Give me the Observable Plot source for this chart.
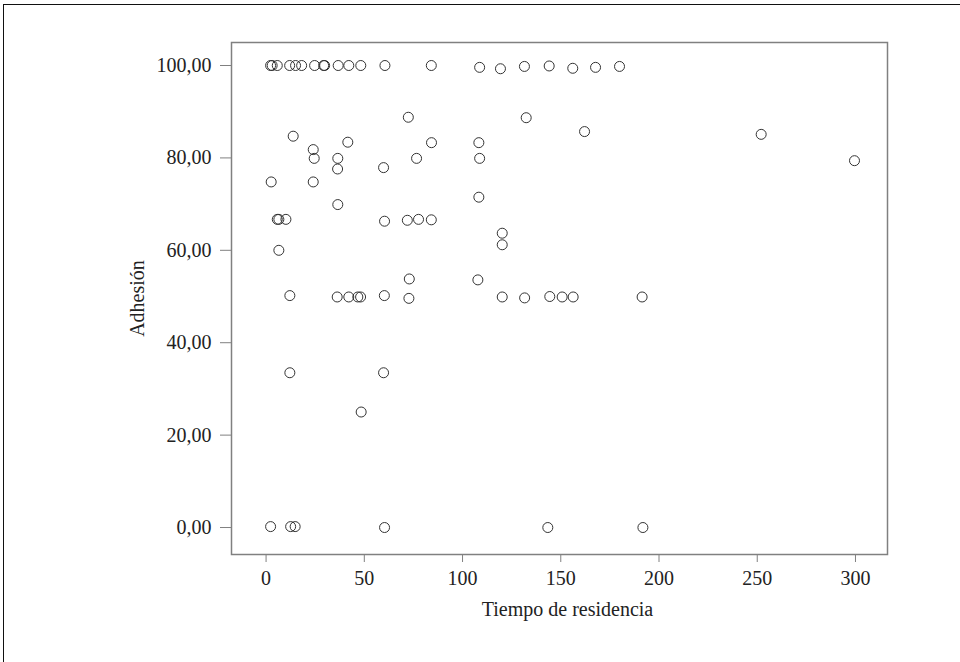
<!DOCTYPE html>
<html>
<head>
<meta charset="utf-8">
<script src="https://cdn.jsdelivr.net/npm/d3@7"></script>
<script src="https://cdn.jsdelivr.net/npm/@observablehq/plot@0.6"></script>
<style>
  html, body { margin: 0; padding: 0; background: #fff; overflow: hidden; }
  #wrap { position: relative; width: 960px; height: 662px; }
  #border { position: absolute; left: 3px; top: 4px; width: 2000px; height: 2000px;
            border-left: 1.5px solid #111; border-top: 1.5px solid #111; }
  #chart { position: absolute; left: 0; top: 0; }
</style>
</head>
<body>
<div id="wrap"><div id="border"></div><div id="chart"></div></div>
<script>
const tiempo = [
  2.3, 3.1, 5.7, 12.0, 15.0, 18.1, 24.7, 29.3, 29.8, 36.7, 42.1, 48.2, 60.5, 84.1,
  108.7, 119.3, 131.5, 144.1, 156.1, 167.7, 179.9,
  72.4, 13.8, 41.6, 84.2, 24.0, 24.5, 36.5, 76.6, 36.4, 59.8, 2.6, 24.0, 36.5,
  5.7, 6.5, 10.1, 60.3, 71.9, 77.6, 84.1, 6.5, 72.9,
  12.1, 36.2, 42.1, 46.7, 48.1, 60.2, 72.7, 12.1, 59.8, 48.4,
  2.3, 12.5, 14.8, 60.3,
  132.4, 162.1, 108.3, 108.7, 108.3, 120.2, 120.2, 107.8,
  120.2, 131.6, 144.4, 150.7, 156.3, 191.4, 143.4, 191.8,
  252.0, 299.5
];
const adhesion = [
  100, 100, 100, 100, 100, 100, 100, 100, 100, 100, 100, 100, 100, 100,
  99.6, 99.3, 99.8, 99.9, 99.4, 99.6, 99.8,
  88.8, 84.7, 83.4, 83.3, 81.8, 79.9, 79.9, 79.9, 77.6, 77.9, 74.8, 74.8, 69.9,
  66.7, 66.7, 66.7, 66.3, 66.5, 66.7, 66.6, 60.0, 53.8,
  50.2, 49.9, 49.9, 49.9, 49.9, 50.2, 49.6, 33.5, 33.5, 25.0,
  0.2, 0.2, 0.2, 0,
  88.7, 85.7, 83.3, 79.9, 71.5, 63.7, 61.2, 53.6,
  49.9, 49.7, 50.0, 49.9, 49.9, 49.9, 0, 0,
  85.1, 79.4
];
const xTicks = [0, 50, 100, 150, 200, 250, 300];
const yTicks = [0, 20, 40, 60, 80, 100];
const xLabel = "Tiempo de residencia";
const yLabel = "Adhesión";

const data = tiempo.map((t, i) => ({tiempo: t, adhesion: adhesion[i]}));
const fmt = d => d.toFixed(2).replace(".", ",");

const chart = Plot.plot({
  width: 960,
  height: 662,
  marginLeft: 231,
  marginRight: 73,
  marginTop: 42,
  marginBottom: 108,
  x: {domain: [-17.6, 316.3]},
  y: {domain: [-5.84, 104.98]},
  style: {fontFamily: "'Liberation Serif', 'Times New Roman', serif", fontSize: "20px", color: "#222", background: "transparent"},
  marks: [
    Plot.frame({stroke: "#808080", strokeWidth: 1.5}),
    Plot.axisX({ticks: xTicks, tickSize: 8, tickPadding: 8, stroke: "#808080", label: null, fontSize: 20, fill: "#222", tickFormat: d => String(d)}),
    Plot.axisY({ticks: yTicks, tickSize: 11, tickPadding: 9, stroke: "#808080", label: null, fontSize: 20, fill: "#222", tickFormat: fmt}),
    Plot.dot(data, {x: "tiempo", y: "adhesion", r: 5, stroke: "#333", strokeWidth: 1, fill: "none"}),
    Plot.text([xLabel], {frameAnchor: "bottom", text: d => d, textAnchor: "middle", dx: 8, dy: 55, lineAnchor: "middle", fontSize: 20, fill: "#222"}),
    Plot.text([yLabel], {frameAnchor: "left", text: d => d, textAnchor: "middle", rotate: -90, dx: -94, lineAnchor: "middle", fontSize: 20, fill: "#222"})
  ]
});
document.getElementById("chart").appendChild(chart);
</script>
</body>
</html>
